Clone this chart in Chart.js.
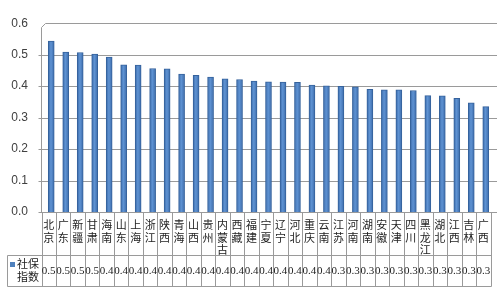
<!DOCTYPE html>
<html>
<head>
<meta charset="utf-8">
<script src="https://cdn.jsdelivr.net/npm/chart.js@4.4.1/dist/chart.umd.min.js"></script>
<style>
  html, body { margin: 0; padding: 0; background: #fff; }
  canvas { display: block; }
</style>
</head>
<body>
<canvas id="chart" width="500" height="293"></canvas>
<script>
const provinces = ['北京', '广东', '新疆', '甘肃', '海南', '山东', '上海', '浙江', '陕西', '青海',
    '山西', '贵州', '内蒙古', '西藏', '福建', '宁夏', '辽宁', '河北', '重庆', '云南',
    '江苏', '河南', '湖南', '安徽', '天津', '四川', '黑龙江', '湖北', '江西', '吉林', '广西'];
const socialIndex = [0.543, 0.508, 0.507, 0.502, 0.492, 0.468, 0.467, 0.456, 0.455, 0.438,
    0.434, 0.429, 0.423, 0.421, 0.416, 0.414, 0.413, 0.412, 0.403, 0.401,
    0.399, 0.398, 0.390, 0.388, 0.388, 0.386, 0.370, 0.369, 0.361, 0.347, 0.335];
const seriesName = ['社保', '指数'];
const yTicks = [0, 0.1, 0.2, 0.3, 0.4, 0.5, 0.6];

const barColor = '#4f81bd';
const lineColor = '#9a9a9a';

// column shading: darker edges, lighter middle
function barFill(c) {
    const chart = c.chart;
    if (!chart.chartArea || !chart.scales.x) return barColor;
    const cx = chart.scales.x.getPixelForValue(c.dataIndex);
    const g = chart.ctx.createLinearGradient(cx - 3, 0, cx + 3, 0);
    g.addColorStop(0, '#3a69a8');
    g.addColorStop(0.45, '#5f93d3');
    g.addColorStop(1, '#3d6cab');
    return g;
}

// gridlines + wall, drawn under the bars
const wallPlugin = {
    id: 'wall',
    beforeDatasetsDraw(chart) {
        const ctx = chart.ctx;
        const y = chart.scales.y;
        const left = 41.5;
        const right = 497;
        ctx.save();
        ctx.strokeStyle = lineColor;
        ctx.lineWidth = 1;
        yTicks.forEach((v, i) => {
            const py = Math.round(y.getPixelForValue(v)) + 0.5;
            ctx.beginPath();
            if (i === yTicks.length - 1) {
                ctx.moveTo(left + 4, py);
            } else {
                ctx.moveTo(left - 3, py);
            }
            ctx.lineTo(right, py);
            ctx.stroke();
        });
        // left axis with small corner at top
        const top = Math.round(y.getPixelForValue(0.6)) + 0.5;
        const bottom = Math.round(y.getPixelForValue(0)) + 0.5;
        ctx.beginPath();
        ctx.moveTo(left, bottom);
        ctx.lineTo(left, top + 4);
        ctx.lineTo(left + 4, top);
        ctx.stroke();
        ctx.restore();
    }
};

// data table below the plot
const tablePlugin = {
    id: 'table',
    afterDraw(chart) {
        const ctx = chart.ctx;
        const x = chart.scales.x;
        const y = chart.scales.y;
        const half = (x.getPixelForValue(1) - x.getPixelForValue(0)) / 2;
        const shift = -2.5;
        const top = Math.round(y.getPixelForValue(0)) + 0.5;
        const mid = 255.5;
        const bot = 286.5;
        const legendLeft = 7.5;
        const edge = i => Math.round(x.getPixelForValue(i) - half + shift) + 0.5;
        const lastEdge = edge(provinces.length);

        ctx.save();
        ctx.strokeStyle = lineColor;
        ctx.lineWidth = 1;
        for (let i = 0; i <= provinces.length; i++) {
            const px = edge(i);
            ctx.beginPath();
            ctx.moveTo(px, top);
            ctx.lineTo(px, bot);
            ctx.stroke();
        }
        ctx.beginPath();
        ctx.moveTo(legendLeft, mid);
        ctx.lineTo(lastEdge, mid);
        ctx.moveTo(legendLeft, bot);
        ctx.lineTo(lastEdge, bot);
        ctx.moveTo(legendLeft, mid);
        ctx.lineTo(legendLeft, bot);
        ctx.stroke();

        ctx.fillStyle = '#222';
        ctx.textAlign = 'center';
        ctx.textBaseline = 'middle';
        ctx.font = '11px "Noto Sans CJK SC"';
        provinces.forEach((name, i) => {
            const cx = x.getPixelForValue(i) + shift;
            [...name].forEach((ch, k) => {
                ctx.fillText(ch, cx, 225 + k * 12.5);
            });
        });

        ctx.font = '11px "Liberation Serif"';
        socialIndex.forEach((v, i) => {
            const cx = x.getPixelForValue(i) + shift;
            ctx.fillText(String(v).slice(0, 3), cx, 271);
        });

        // legend key
        ctx.fillStyle = barColor;
        ctx.fillRect(10, 262, 5, 5);
        ctx.fillStyle = '#222';
        ctx.textAlign = 'right';
        ctx.font = '11px "Noto Sans CJK SC"';
        ctx.fillText(seriesName[0], 39, 264);
        ctx.fillText(seriesName[1], 39, 277);
        ctx.restore();
    }
};

new Chart(document.getElementById('chart'), {
    type: 'bar',
    data: {
        labels: provinces,
        datasets: [{
            label: seriesName.join(''),
            data: socialIndex,
            backgroundColor: barFill,
            borderColor: '#35629c',
            borderWidth: 1,
            barThickness: 6
        }]
    },
    options: {
        responsive: false,
        devicePixelRatio: 1,
        animation: false,
        layout: {
            padding: { top: 16, right: 7, bottom: 81, left: 0 }
        },
        plugins: {
            legend: { display: false },
            tooltip: { enabled: false }
        },
        scales: {
            x: {
                display: false
            },
            y: {
                min: 0,
                max: 0.6,
                afterFit: s => { s.width = 44; },
                afterBuildTicks: s => { s.ticks = yTicks.map(v => ({ value: v })); },
                grid: { display: false, drawTicks: false },
                border: { display: false },
                ticks: {
                    padding: 16,
                    color: '#404040',
                    font: { family: '"Liberation Sans"', size: 12 },
                    callback: v => v.toFixed(1)
                }
            }
        }
    },
    plugins: [wallPlugin, tablePlugin]
});
</script>
</body>
</html>
